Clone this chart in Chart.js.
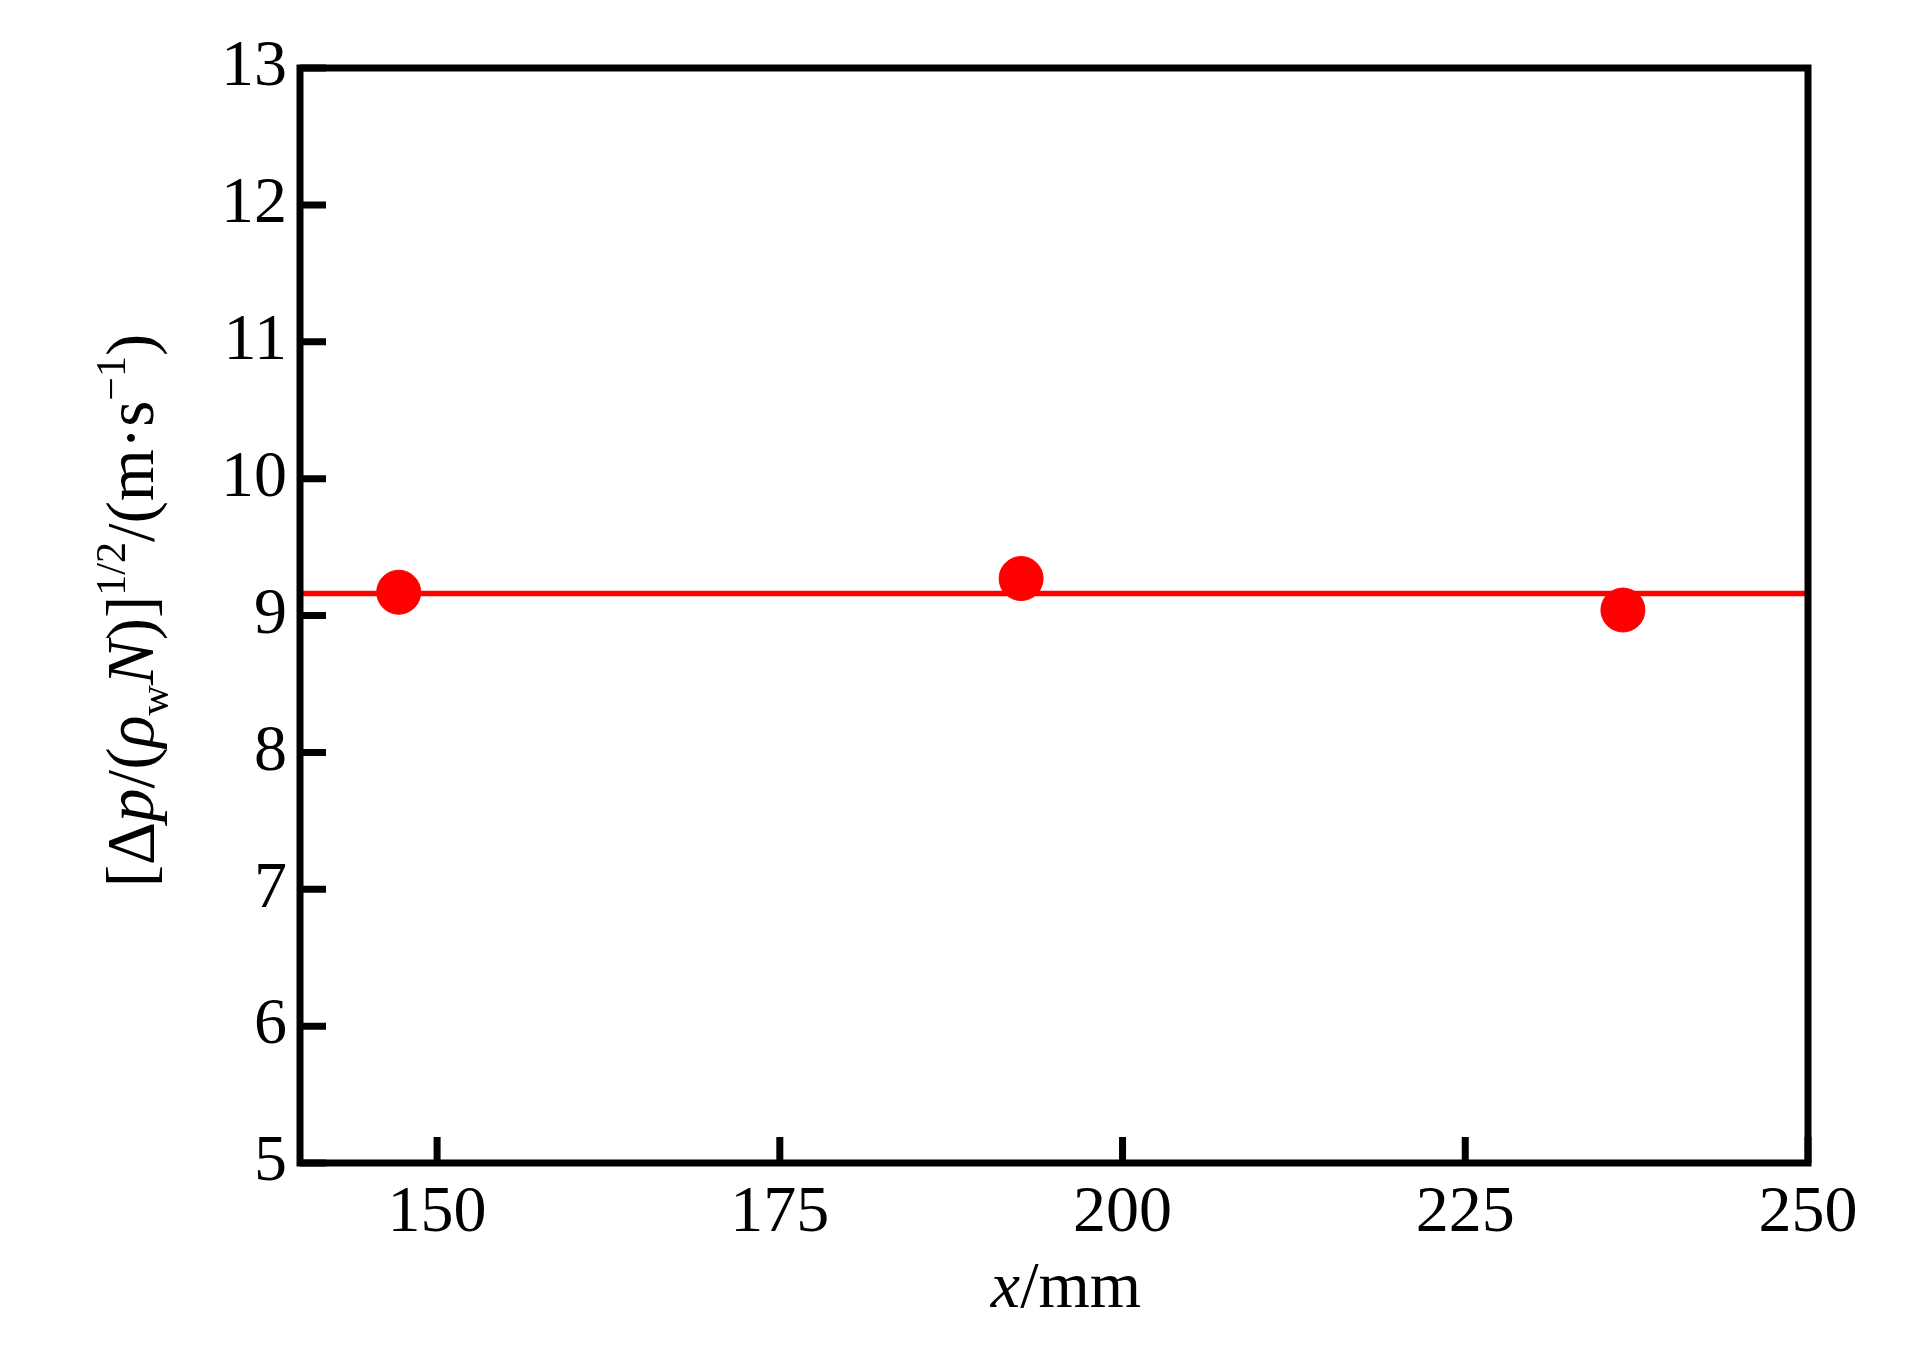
<!DOCTYPE html>
<html>
<head>
<meta charset="utf-8">
<script src="https://cdn.jsdelivr.net/npm/chart.js@4/dist/chart.umd.min.js"></script>
<style>
    body { margin: 0; background: #fff; }
    #wrap { width: 1923px; height: 1364px; position: relative; }
</style>
</head>
<body>
<div id="wrap"><canvas id="chart"></canvas></div>
<script>
// datos
const pointsX = [147.2, 192.6, 236.5];
const pointsY = [9.17, 9.27, 9.04];
const fitX = [140, 250];
const fitY = [9.16, 9.16];
const xTickVals = [150, 175, 200, 225, 250];
const yTickVals = [5, 6, 7, 8, 9, 10, 11, 12, 13];

const FONT = "'Liberation Serif', 'Times New Roman', serif";
const FONT_SIZE = 66;

// texto con subindices / superindices
function drawRich(ctx, segs, size, x0, y0, centered) {
    const fontFor = s => `${s.italic ? 'italic ' : ''}${Math.round(size * (s.scale || 1))}px ${FONT}`;
    let total = 0;
    segs.forEach(s => { ctx.font = fontFor(s); total += ctx.measureText(s.t).width; });
    let x = centered ? x0 - total / 2 : x0;
    segs.forEach(s => {
        ctx.font = fontFor(s);
        ctx.fillText(s.t, x, y0 + (s.dy || 0) * size);
        x += ctx.measureText(s.t).width;
    });
}

const yTitle = [
    { t: '[Δ' }, { t: 'p', italic: true }, { t: '/(' }, { t: 'ρ', italic: true },
    { t: 'w', scale: 0.62, dy: 0.22 }, { t: 'N', italic: true }, { t: ')]' },
    { t: '1/2', scale: 0.62, dy: -0.42 }, { t: '/(m·s' }, { t: '−1', scale: 0.62, dy: -0.42 }, { t: ')' }
];
const xTitle = [{ t: 'x', italic: true }, { t: '/mm' }];

const framePlugin = {
    id: 'frame',
    afterDraw(chart) {
        const { ctx, chartArea: a, scales } = chart;
        ctx.save();
        ctx.strokeStyle = '#000';
        ctx.lineWidth = 7;
        // ticks hacia adentro
        ctx.beginPath();
        xTickVals.forEach(v => {
            const px = scales.x.getPixelForValue(v);
            ctx.moveTo(px, a.bottom); ctx.lineTo(px, a.bottom - 26);
        });
        yTickVals.forEach(v => {
            const py = scales.y.getPixelForValue(v);
            ctx.moveTo(a.left, py); ctx.lineTo(a.left + 26, py);
        });
        ctx.stroke();
        ctx.lineJoin = 'miter';
        ctx.strokeRect(a.left, a.top, a.right - a.left, a.bottom - a.top);

        // titulos
        ctx.fillStyle = '#000';
        ctx.textBaseline = 'alphabetic';
        drawRich(ctx, xTitle, FONT_SIZE, (a.left + a.right) / 2 + 12, a.bottom + 144, true);
        ctx.translate(a.left - 147, (a.top + a.bottom) / 2 - 5);
        ctx.rotate(-Math.PI / 2);
        drawRich(ctx, yTitle, FONT_SIZE + 1, 0, 0, true);
        ctx.restore();
    }
};

new Chart(document.getElementById('chart'), {
    type: 'scatter',
    data: {
        datasets: [
            {
                label: 'puntos',
                data: pointsX.map((x, i) => ({ x, y: pointsY[i] })),
                backgroundColor: '#ff0000',
                borderColor: '#ff0000',
                borderWidth: 1,
                pointRadius: 22,
                order: 1
            },
            {
                label: 'ajuste',
                type: 'line',
                data: fitX.map((x, i) => ({ x, y: fitY[i] })),
                borderColor: '#ff0000',
                borderWidth: 5.5,
                pointRadius: 0,
                order: 2
            }
        ]
    },
    options: {
        responsive: true,
        maintainAspectRatio: false,
        animation: false,
        layout: { padding: { top: 68, right: 115, left: 0, bottom: 0 } },
        plugins: { legend: { display: false }, tooltip: { enabled: false } },
        scales: {
            x: {
                type: 'linear', min: 140, max: 250,
                grid: { display: false },
                border: { display: false },
                afterBuildTicks: s => { s.ticks = xTickVals.map(v => ({ value: v })); },
                afterFit: s => { s.height = 201; },
                ticks: { color: '#000', padding: 3, maxRotation: 0, font: { family: FONT, size: FONT_SIZE } }
            },
            y: {
                type: 'linear', min: 5, max: 13,
                grid: { display: false },
                border: { display: false },
                afterBuildTicks: s => { s.ticks = yTickVals.map(v => ({ value: v })); },
                afterFit: s => { s.width = 300; },
                ticks: { color: '#000', padding: 5, font: { family: FONT, size: FONT_SIZE } }
            }
        }
    },
    plugins: [framePlugin]
});
</script>
</body>
</html>
